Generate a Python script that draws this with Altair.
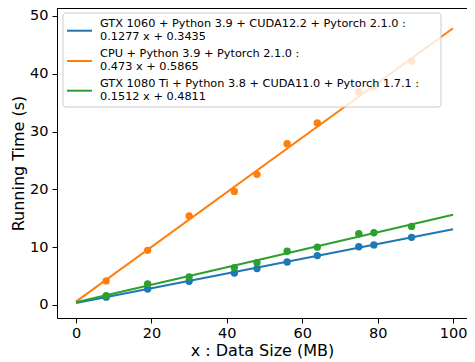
import altair as alt
import pandas as pd

# ---- data ----
sizes_mb = [8, 19, 30, 42, 48, 56, 64, 75, 79, 89]
gtx1060_times = [1.35, 2.76, 4.10, 5.52, 6.30, 7.43, 8.55, 10.08, 10.40, 11.70]
cpu_times = [4.17, 9.46, 15.40, 19.65, 22.60, 27.90, 31.50, 36.90, 37.80, 42.20]
gtx1080ti_times = [1.63, 3.66, 4.84, 6.47, 7.32, 9.29, 10.00, 12.33, 12.50, 13.60]

series_names = [
    "GTX 1060 + Python 3.9 + CUDA12.2 + Pytorch 2.1.0 :\n0.1277 x + 0.3435",
    "CPU + Python 3.9 + Pytorch 2.1.0 :\n0.473 x + 0.5865",
    "GTX 1080 Ti + Python 3.8 + CUDA11.0 + Pytorch 1.7.1 :\n0.1512 x + 0.4811",
]
slopes = [0.1277, 0.473, 0.1512]
intercepts = [0.3435, 0.5865, 0.4811]
fit_x = [0, 100]
colors = ["#1f77b4", "#ff7f0e", "#2ca02c"]

x_ticks = [0, 20, 40, 60, 80, 100]
y_ticks = [0, 10, 20, 30, 40, 50]

# ---- tables ----
pts_rows = []
for name, ys in zip(series_names, [gtx1060_times, cpu_times, gtx1080ti_times]):
    for xv, yv in zip(sizes_mb, ys):
        pts_rows.append({"series": name, "x": xv, "y": yv})
points_df = pd.DataFrame(pts_rows)

line_rows = []
for name, m, b in zip(series_names, slopes, intercepts):
    for xv in fit_x:
        line_rows.append({"series": name, "x": xv, "y": m * xv + b})
lines_df = pd.DataFrame(line_rows)

FONT = "DejaVu Sans"
W, H = 410, 310

x_enc = alt.X(
    "x:Q",
    scale=alt.Scale(domain=[-5.04, 103.7], nice=False, zero=False),
    axis=alt.Axis(
        title="x : Data Size (MB)",
        values=x_ticks,
        format="d",
        grid=False,
        labelFlush=False,
        tickSize=5,
        labelPadding=3,
        titlePadding=3,
    ),
)
y_enc = alt.Y(
    "y:Q",
    scale=alt.Scale(domain=[-2.25, 51.38], nice=False, zero=False),
    axis=alt.Axis(
        title="Running Time (s)",
        values=y_ticks,
        format="d",
        grid=False,
        labelFlush=False,
        tickSize=5,
        labelPadding=4,
        titlePadding=3,
    ),
)
color_scale = alt.Scale(domain=series_names, range=colors)

lines = alt.Chart(lines_df).mark_line(strokeWidth=2, clip=True).encode(
    x=x_enc,
    y=y_enc,
    color=alt.Color("series:N", scale=color_scale, legend=None),
)

points = alt.Chart(points_df).mark_circle(size=54, opacity=1).encode(
    x="x:Q",
    y="y:Q",
    color=alt.Color("series:N", scale=color_scale, legend=None),
)

one = pd.DataFrame({"k": [0]})

# top spine (the right spine lies outside the window in the reference)
top_spine = alt.Chart(one).mark_rule(color="black", strokeWidth=1).encode(
    x=alt.value(0), x2=alt.value(W), y=alt.value(0.5)
)

# ---- legend box drawn inside the plot (upper left) ----
legend_box = alt.Chart(one).mark_rect(
    fill="white", fillOpacity=0.8, stroke="#cccccc", strokeWidth=1, cornerRadius=3
).encode(
    x=alt.value(6), x2=alt.value(384), y=alt.value(5), y2=alt.value(99)
)

legend_layers = [legend_box]
entry_y = [22.7, 53.0, 82.7]
for name, col, ey in zip(series_names, colors, entry_y):
    legend_layers.append(
        alt.Chart(one).mark_rule(color=col, strokeWidth=2).encode(
            x=alt.value(10), x2=alt.value(35), y=alt.value(ey)
        )
    )
    legend_layers.append(
        alt.Chart(one).mark_text(
            align="left", baseline="alphabetic", lineBreak="\n", lineHeight=13,
            font=FONT, fontSize=11.3, color="black",
        ).encode(
            x=alt.value(43), y=alt.value(ey - 3.6), text=alt.value(name)
        )
    )

chart = (
    alt.layer(lines, points, top_spine, *legend_layers)
    .properties(
        width=W,
        height=H,
        padding={"left": 49, "top": 0, "right": 0, "bottom": 44},
        autosize=alt.AutoSizeParams(type="none"),
    )
    .configure_view(stroke=None)
    .configure_axis(
        labelFont=FONT,
        titleFont=FONT,
        labelFontSize=14.5,
        titleFontSize=16,
        titleFontWeight="normal",
        labelColor="black",
        titleColor="black",
        domainColor="black",
        tickColor="black",
        domainWidth=1,
        tickWidth=1,
    )
)

chart.save("out.html", embed_options={"renderer": "svg", "actions": False})
